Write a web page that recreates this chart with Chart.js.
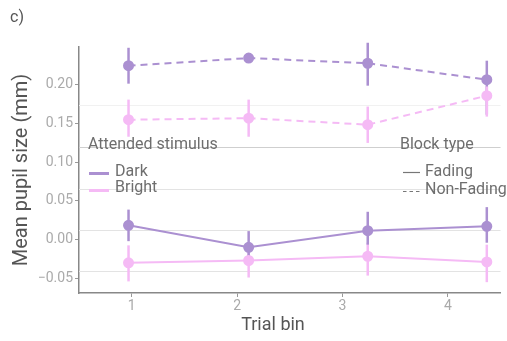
<!DOCTYPE html>
<html>
<head>
<meta charset="utf-8">
<script src="https://cdn.jsdelivr.net/npm/chart.js@4.4.0/dist/chart.umd.min.js"></script>
<style>
  html, body { margin: 0; padding: 0; background: #fff; }
  #wrap { position: relative; width: 507px; height: 341px; }
</style>
</head>
<body>
<div id="wrap"><canvas id="pupilChart"></canvas></div>
<script>
// tick labels / positions
const binTicks = [1, 2, 3, 4];
const yTicks = [-0.05, 0.00, 0.05, 0.10, 0.15, 0.20];
const binX = [0.97, 2.11, 3.24, 4.37]; // dodged x of the points

// Fading (solid)
const darkFading     = [0.0185, -0.0100, 0.0116, 0.0172];
const darkFadingLo   = [-0.0020, -0.0250, -0.0065, -0.0040];
const darkFadingHi   = [0.0388, 0.0110, 0.0360, 0.0420];
const brightFading   = [-0.0300, -0.0270, -0.0215, -0.0288];
const brightFadingLo = [-0.0540, -0.0490, -0.0465, -0.0550];
const brightFadingHi = [-0.0074, -0.0065, -0.0040, -0.0065];

// Non-Fading (dashed)
const darkNonFading     = [0.2248, 0.2347, 0.2280, 0.2067];
const darkNonFadingLo   = [0.2016, 0.2290, 0.1990, 0.1615];
const darkNonFadingHi   = [0.2480, 0.2400, 0.2545, 0.2313];
const brightNonFading   = [0.1550, 0.1570, 0.1486, 0.1860];
const brightNonFadingLo = [0.1330, 0.1330, 0.1250, 0.1590];
const brightNonFadingHi = [0.1810, 0.1810, 0.1720, 0.1980];

const DARK = '#ab90d1';
const BRIGHT = '#f5baf5';

Chart.defaults.font.family = 'Roboto';

function pts(vals) {
    return vals.map((v, i) => ({ x: binX[i], y: v }));
}

function series(label, vals, lo, hi, color, dashed) {
    return {
        label: label,
        data: pts(vals),
        lo: lo,
        hi: hi,
        borderColor: color,
        backgroundColor: color,
        pointBackgroundColor: color,
        pointBorderColor: color,
        pointRadius: 4.5,
        pointHoverRadius: 4.5,
        borderWidth: 2,
        borderDash: dashed ? [7, 5] : [],
        tension: 0
    };
}

// background lines of the panel (they sit off the tick values in the original)
const bgLines = [
    { v: 0.1735, c: '#f1f1f1' },
    { v: 0.1198, c: '#cfcfcf' },
    { v: 0.0659, c: '#e3e3e3' },
    { v: 0.0125, c: '#e3e3e3' },
    { v: -0.0404, c: '#e3e3e3' }
];

const extras = {
    id: 'extras',
    beforeDatasetsDraw(chart) {
        const ctx = chart.ctx;
        const a = chart.chartArea;
        const xs = chart.scales.x, ys = chart.scales.y;
        ctx.save();
        bgLines.forEach(g => {
            const py = Math.round(ys.getPixelForValue(g.v)) + 0.5;
            ctx.strokeStyle = g.c;
            ctx.lineWidth = 1.2;
            ctx.beginPath();
            ctx.moveTo(a.left, py);
            ctx.lineTo(a.right, py);
            ctx.stroke();
        });
        // error bars
        chart.data.datasets.forEach(ds => {
            ctx.strokeStyle = ds.borderColor;
            ctx.lineWidth = 2.5;
            ds.data.forEach((p, i) => {
                const px = xs.getPixelForValue(p.x);
                ctx.beginPath();
                ctx.moveTo(px, ys.getPixelForValue(ds.lo[i]));
                ctx.lineTo(px, ys.getPixelForValue(ds.hi[i]));
                ctx.stroke();
            });
        });
        ctx.restore();
    },
    afterDraw(chart) {
        const ctx = chart.ctx;
        ctx.save();
        ctx.textBaseline = 'middle';
        ctx.textAlign = 'left';
        ctx.fillStyle = '#555';
        ctx.font = '16px Roboto';
        ctx.fillText('c)', 10, 18);

        // x axis title (sits left of the panel centre in the original)
        ctx.textAlign = 'center';
        ctx.font = '18px Roboto';
        ctx.fillText('Trial bin', 273, 325);
        ctx.textAlign = 'left';

        ctx.fillStyle = '#6e6e6e';
        ctx.font = '16px Roboto';
        ctx.fillText('Attended stimulus', 88, 145);
        ctx.fillText('Dark', 115, 172);
        ctx.fillText('Bright', 115, 188);
        ctx.fillText('Block type', 400, 145);
        ctx.fillText('Fading', 425, 172);
        ctx.fillText('Non-Fading', 425, 190);

        // legend keys
        ctx.lineWidth = 3;
        ctx.strokeStyle = DARK;
        ctx.beginPath(); ctx.moveTo(89, 173.5); ctx.lineTo(109, 173.5); ctx.stroke();
        ctx.strokeStyle = BRIGHT;
        ctx.beginPath(); ctx.moveTo(89, 190.5); ctx.lineTo(109, 190.5); ctx.stroke();
        ctx.lineWidth = 1.2;
        ctx.strokeStyle = '#777';
        ctx.beginPath(); ctx.moveTo(403, 172.5); ctx.lineTo(420, 172.5); ctx.stroke();
        ctx.setLineDash([3.5, 3]);
        ctx.beginPath(); ctx.moveTo(403, 191.5); ctx.lineTo(420, 191.5); ctx.stroke();
        ctx.restore();
    }
};

const ctxPupil = document.getElementById('pupilChart').getContext('2d');
new Chart(ctxPupil, {
    type: 'line',
    data: {
        datasets: [
            series('Dark Non-Fading', darkNonFading, darkNonFadingLo, darkNonFadingHi, DARK, true),
            series('Bright Non-Fading', brightNonFading, brightNonFadingLo, brightNonFadingHi, BRIGHT, true),
            series('Bright Fading', brightFading, brightFadingLo, brightFadingHi, BRIGHT, false),
            series('Dark Fading', darkFading, darkFadingLo, darkFadingHi, DARK, false)
        ]
    },
    options: {
        responsive: true,
        maintainAspectRatio: false,
        animation: false,
        layout: { padding: { top: 47, right: 0, left: 0, bottom: 0 } },
        plugins: {
            legend: { display: false },
            tooltip: { enabled: false }
        },
        scales: {
            x: {
                type: 'linear',
                min: 0.5,
                max: 4.5,
                afterBuildTicks: s => { s.ticks = binTicks.map(v => ({ value: v })); },
                afterFit: s => { s.height = 48; },
                ticks: { color: '#aaa', font: { size: 14 }, padding: 1, callback: v => String(v) },
                grid: { drawOnChartArea: false, drawTicks: true, tickLength: 4, color: '#999' },
                border: { color: '#888', width: 1.5 },
                title: { display: false }
            },
            y: {
                min: -0.069,
                max: 0.249,
                afterBuildTicks: s => { s.ticks = yTicks.map(v => ({ value: v })); },
                afterFit: s => { s.width = 79; },
                ticks: {
                    color: '#aaa',
                    font: { size: 14 },
                    padding: 2,
                    callback: v => (v < 0 ? '\u2212' : '') + Math.abs(v).toFixed(2)
                },
                grid: { drawOnChartArea: false, drawTicks: true, tickLength: 4, color: '#999' },
                border: { color: '#888', width: 1.5 },
                title: { display: true, text: 'Mean pupil size (mm)', color: '#555', font: { size: 20 }, padding: { top: 10, bottom: 0 } }
            }
        }
    },
    plugins: [extras]
});
</script>
</body>
</html>
